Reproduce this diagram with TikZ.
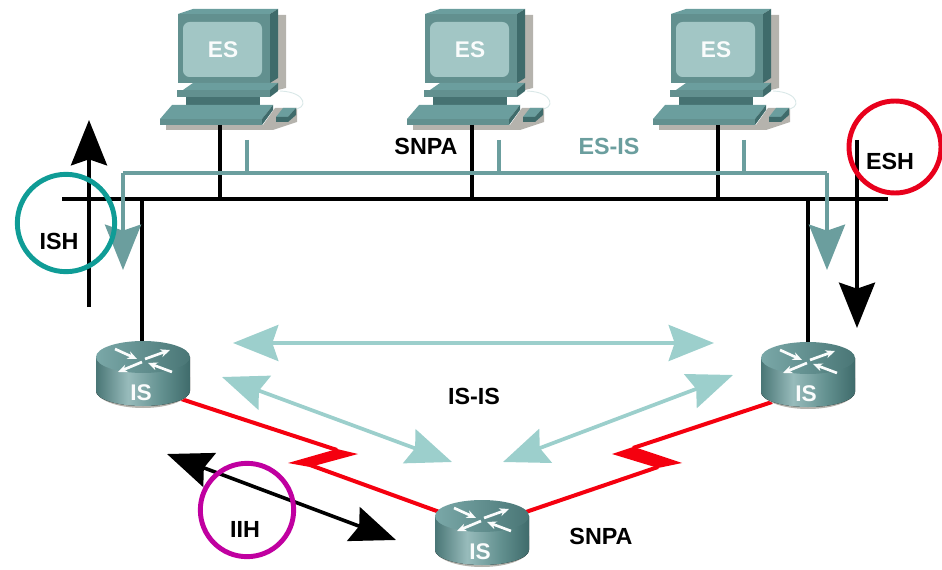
\documentclass[tikz,border=0pt]{standalone}
\usepackage{fontspec}
\setmainfont{Liberation Sans}
\usepackage{tikz}
\usetikzlibrary{arrows.meta}

\definecolor{tealdark}{HTML}{3F6B6B}
\definecolor{tealmid}{HTML}{62908F}
\definecolor{teallight}{HTML}{A2C6C5}
\definecolor{tealline}{HTML}{6B9E9E}
\definecolor{isisarrow}{HTML}{9CCFCC}
\definecolor{shadowgrey}{HTML}{B5B3AD}
\definecolor{ishring}{HTML}{0F9C96}
\definecolor{eshring}{HTML}{E8001C}
\definecolor{iihring}{HTML}{C000A0}
\definecolor{serialred}{HTML}{F5000F}

\pgfdeclarehorizontalshading{routerbody}{100bp}{
	color(0bp)=(tealdark!70!tealmid);
	color(25bp)=(tealdark!70!tealmid);
	color(42bp)=(tealline!70!white);
	color(60bp)=(tealmid);
	color(75bp)=(tealdark);
	color(100bp)=(tealdark)}

\tikzset{
	label/.style={font=\fontsize{17.5}{19}\selectfont\bfseries, text=black, inner sep=0pt},
	devlabel/.style={font=\fontsize{17}{19}\selectfont\bfseries, text=white!95!teallight, inner sep=0pt},
	bighead/.tip={Stealth[length=34pt,width=27pt,inset=4.5pt]},
	busline/.style={line width=2.7pt, black},
	teal line/.style={line width=2.8pt, tealline},
	tealtip/.style={-bighead, teal line},
	signal/.style={line width=2.7pt, black},
	isis/.style={line width=2.8pt, isisarrow, bighead-bighead},
	ring/.style={line width=3.7pt, draw=#1, fill=none, circle, inner sep=0pt},
	serial/.style={line width=3pt, serialred},
	esbox/.pic={
		% shadow first, the whole box sits on it
		\fill[shadowgrey] (55,-35) -- (63,-35) -- (63,38) -- (47,42) -- (47,33) -- cycle;
		\fill[shadowgrey] (-57,75) -- (40,75) -- (52,58) -- (74,58) -- (74,72) -- (50,80) -- (-57,80) -- cycle;
		\draw[teallight!40!white, line width=0.7pt] (57,41) .. controls (85,42) and (85,60) .. (70,59);
		% monitor
		\fill[tealline] (-45,-36) -- (-30,-41) -- (55,-41) -- (47,-36) -- cycle;
		\fill[tealdark] (47,-36) -- (55,-41) -- (55,28) -- (47,33) -- cycle;
		\fill[tealmid] (-45,-36) rectangle (47,33);
		\fill[teallight, rounded corners=5pt] (-40,-28) rectangle (39,27);
		% stand
		\fill[tealline] (-40,40) -- (47,40) -- (55,33) -- (-30,33) -- cycle;
		\fill[tealmid] (-46,40) rectangle (47,47);
		\fill[tealdark] (47,40) -- (55,33) -- (55,41) -- (47,47) -- cycle;
		\fill[tealdark!80!tealmid] (-37,47) rectangle (37,55);
		% keyboard and mouse
		\fill[tealline] (-51,55) -- (50,55) -- (39,69) -- (-63,69) -- cycle;
		\fill[tealmid] (-63,69) rectangle (39,75);
		\fill[tealdark] (39,69) -- (50,55) -- (50,60) -- (39,75) -- cycle;
		\fill[tealline] (60,58) -- (73,58) -- (65,67) -- (53,67) -- cycle;
		\fill[tealdark] (53,67) -- (65,67) -- (73,58) -- (73,65) -- (65,72) -- (53,72) -- cycle;
		\node[devlabel] (-label) at (0,0) {ES};
	},
	routerbox/.pic={
		\fill[shadowgrey] (-47,33) arc[start angle=180,end angle=0,x radius=47,y radius=18] -- (47,20) -- cycle;
		\fill[shading=routerbody] (-47,0) -- (-47,34) arc[start angle=180,end angle=0,x radius=47,y radius=15] -- (47,0) -- cycle;
		\path[left color=tealline!90!white, right color=tealdark!70!tealmid] (0,0) ellipse[x radius=47,y radius=16];
		\foreach \xa/\ya/\xb/\yb in {-28/-8/-6/2, 2/2/27/-7, -1/5/-25/15, 29/15/5/6}
			\draw[white!95!teallight, line width=2pt, -{Stealth[length=7pt,width=6pt]}] (\xa,\ya) -- (\xb,\yb);
		\node[devlabel] (-label) at (-2,36) {IS};
	},
}

\begin{document}
\begin{tikzpicture}[x=0.75pt, y=-0.75pt]
	\useasboundingbox (0,0) rectangle (942,570);
	
	% Hosts along the top
	\pic (esA) at (223,50) {esbox};
	\pic (esB) at (470,50) {esbox};
	\pic (esC) at (716,50) {esbox};
	
	% Ends of the shared segment, with the taps on it
	\coordinate (busW) at (62,199);
	\coordinate (busE) at (888,199);
	\foreach \tap/\xtap/\yfoot in {A/220/125, B/472/125, C/718/125, L/142/345, R/808/345}{
		\coordinate (tap\tap) at (\xtap,199);
		\coordinate (foot\tap) at (\xtap,\yfoot);
		\draw[busline] (foot\tap) -- (tap\tap);
	}
	\draw[busline] (busW) -- (busE);
	
	% ES-IS path, above the bus
	\coordinate (esisW) at (123,173);
	\coordinate (esisE) at (827,173);
	\coordinate (dropW) at (123,270);
	\coordinate (dropE) at (827,270);
	\draw[tealtip] (esisW) -- (dropW);
	\draw[tealtip] (esisE) -- (dropE);
	\draw[teal line] (esisW) -- (esisE);
	\foreach \es/\xdrop in {A/247, B/499, C/744}{
		\coordinate (hang\es) at (\xdrop,140);
		\coordinate (join\es) at (\xdrop,173);
		\draw[teal line] (hang\es) -- (join\es);
	}
	
	% Hello messages
	\coordinate (ishTail) at (89,307);
	\coordinate (ishTip) at (89,120);
	\coordinate (eshTail) at (857,140);
	\coordinate (eshTip) at (857,328);
	\draw[signal, -bighead] (ishTail) -- (ishTip);
	\draw[signal, -bighead] (eshTail) -- (eshTip);
	
	\coordinate (iihW) at (167,454);
	\coordinate (iihE) at (396,540);
	\draw[signal, bighead-bighead] (iihW) -- (iihE);
	
	% IS-IS adjacencies
	\coordinate (adjTopW) at (233,343);
	\coordinate (adjTopE) at (714,343);
	\coordinate (adjLW) at (222,377);
	\coordinate (adjLE) at (452,462);
	\coordinate (adjRW) at (503,462);
	\coordinate (adjRE) at (733,375);
	\draw[isis] (adjTopW) -- (adjTopE);
	\draw[isis] (adjLW) -- (adjLE);
	\draw[isis] (adjRW) -- (adjRE);
	
	% Serial links, each with its lightning bolt
	\coordinate (boltLa) at (337,450);
	\coordinate (boltLb) at (310,465);
	\coordinate (boltRa) at (633,448);
	\coordinate (boltRb) at (658,467);
	\coordinate (serLfrom) at (175,397);
	\coordinate (serLto) at (445,514);
	\coordinate (serMfrom) at (520,514);
	\coordinate (serRto) at (772,402);
	\draw[serial] (serLfrom) -- (boltLa);
	\draw[serial] (boltLb) -- (serLto);
	\draw[serial] (serMfrom) -- (boltRb);
	\draw[serial] (boltRa) -- (serRto);
	\fill[serialred] (337,449) -- (358,454) -- (310,467) -- (288,463) -- (330,451) -- cycle;
	\fill[serialred] (633,447) -- (612,454) -- (658,468) -- (682,463) -- (640,449) -- cycle;
	
	% Routers go on top of their links
	\pic (isL) at (143,357) {routerbox};
	\pic (isR) at (808,358) {routerbox};
	\pic (isM) at (482,516) {routerbox};
	
	% Rings around the three hello labels
	\node[ring=ishring, minimum size=73pt] (ishRing) at (66,223) {};
	\node[ring=eshring, minimum size=69pt] (eshRing) at (895,147) {};
	\node[ring=iihring, minimum size=70pt] (iihRing) at (247,510) {};
	
	\node[label] (ishText) at (59,241) {ISH};
	\node[label] (eshText) at (890,161) {ESH};
	\node[label] (iihText) at (245,529) {IIH};
	\node[label] (snpaTop) at (426,146) {SNPA};
	\node[label] (snpaLow) at (601,536) {SNPA};
	\node[label, text=tealline] (esisText) at (609,146) {ES-IS};
	\node[label] (isisText) at (474,396) {IS-IS};
\end{tikzpicture}
\end{document}
